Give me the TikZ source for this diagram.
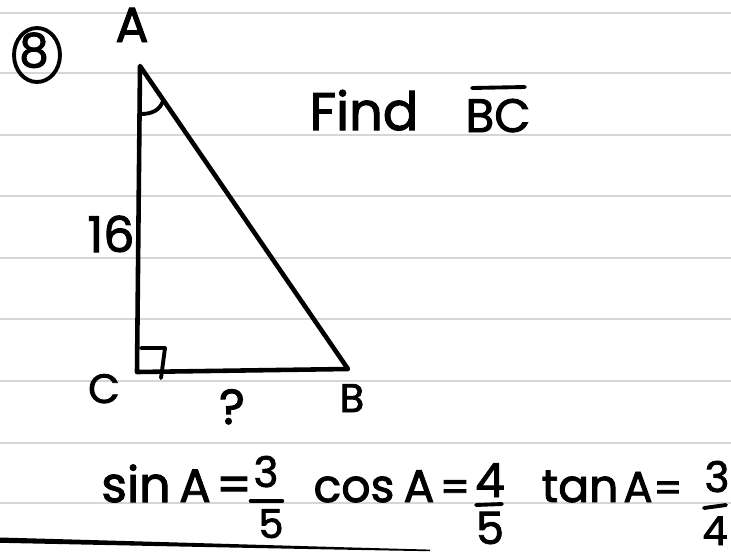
\documentclass[tikz,border=0pt]{standalone}
\usepackage{fontspec}
\newfontfamily\handfont[FakeBold=2]{Poppins}
\definecolor{paperline}{RGB}{214,214,214}
\tikzset{
  ruled/.style={draw=paperline, line width=2.2pt},
  ink/.style={draw=black, line width=3.9pt, line cap=round, line join=round},
  thinink/.style={draw=black, line width=3.3pt, line cap=round, line join=round},
  hand/.style={inner sep=0pt, anchor=base, text=black},
  fs/.style={font=\handfont\fontsize{#1}{#1}\selectfont}
}
\begin{document}
\begin{tikzpicture}[x=0.03cm,y=-0.03cm]
\useasboundingbox (0,0) rectangle (731,554);
\fill[white] (0,0) rectangle (731,554);
% ruled paper lines
\foreach \yy in {13,73,135,196,258,319,381,443,503}
  \draw[ruled] (0,\yy) -- (731,\yy);
% bottom black stroke
\fill[black] (0,537.5) .. controls (200,543) and (330,547) .. (430,549.6)
  -- (430,551.2) .. controls (330,549.5) and (200,547) .. (0,542.8) -- cycle;
% problem number
\node[hand, fs=40] (num) at (34,67) {8};
\draw[thinink] (37,55) ellipse [x radius=23, y radius=27];
% triangle
\coordinate (A) at (140,66);
\coordinate (B) at (348,369);
\coordinate (C) at (137,372);
\draw[ink] (A) -- (B) -- (C) -- cycle;
% angle mark at A
\draw[thinink] (141,114) .. controls (152,114) and (160,110) .. (163,101);
% right angle mark at C
\draw[thinink] (141,348) -- (165,348) -- (161,378);
% vertex labels
\node[hand, fs=42] (lA) at (132,42) {A};
\node[hand, fs=35] (lC) at (104,403) {C};
\node[hand, fs=34] (lB) at (352,412) {B};
\node[hand, fs=42] (l16) at (111,252) {16};
\node[hand, fs=42] (lq) at (232,424) {?};
% Find BC
\node[hand, fs=45] (find) at (364,130) {Find};
\node[hand, fs=40] (bc) at (498,132) {BC};
\draw[thinink] (472,88) -- (525,87);
% sin A = 3/5
\node[hand, fs=42] (sin) at (136,502) {sin};
\node[hand, fs=40] (sA) at (195,502) {A};
\node[hand, fs=42] (sEq) at (234,502) {=};
\node[hand, fs=36] (s3) at (266,487) {3};
\draw[ink] (251,501) -- (282,501);
\node[hand, fs=34] (s5) at (271,538) {5};
% cos A = 4/5
\node[hand, fs=39] (cos) at (354,502) {cos};
\node[hand, fs=39] (cA) at (419,502) {A};
\node[hand, fs=36] (cEq) at (455,502) {=};
\node[hand, fs=40] (c4) at (490,497) {4};
\draw[thinink] (476,505) -- (502,504);
\node[hand, fs=38] (c5) at (490,544) {5};
% tan A = 3/4
\node[hand, fs=39] (tan) at (580,502) {tan};
\node[hand, fs=37] (tA) at (638,502) {A};
\node[hand, fs=34] (tEq) at (668,502) {=};
\node[hand, fs=36] (t3) at (717,492) {3};
\draw[thinink] (704,508) -- (726,505);
\node[hand, fs=34] (t4) at (715,545) {4};
\end{tikzpicture}
\end{document}
